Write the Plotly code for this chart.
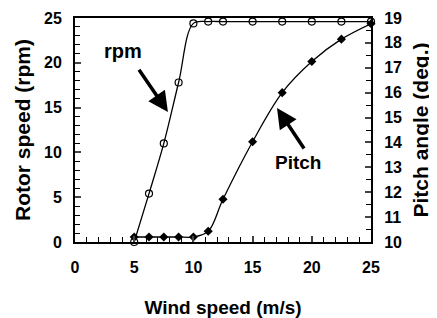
import plotly.graph_objects as go

wind = [5, 6.25, 7.5, 8.75, 10, 11.25, 12.5, 15, 17.5, 20, 22.5, 25]
rpm = [0, 5.4, 11.0, 17.8, 24.4, 24.6, 24.6, 24.6, 24.6, 24.6, 24.6, 24.6]
pitch = [10.2, 10.2, 10.2, 10.2, 10.2, 10.43, 11.72, 14.03, 16.0, 17.25, 18.15, 18.77]

x_ticks = [0, 5, 10, 15, 20, 25]
rpm_ticks = [0, 5, 10, 15, 20, 25]
pitch_ticks = list(range(10, 20))

FONT = "Liberation Sans"

fig = go.Figure()
fig.add_trace(go.Scatter(
    x=wind, y=rpm, mode="lines+markers", line=dict(color="black", width=1.3, shape="spline", smoothing=1),
    marker=dict(symbol="circle-open", size=7, color="black", line=dict(width=1.2)),
    showlegend=False, cliponaxis=False))
fig.add_trace(go.Scatter(
    x=wind, y=pitch, mode="lines+markers", yaxis="y2",
    line=dict(color="black", width=1.3, shape="spline", smoothing=1),
    marker=dict(symbol="diamond", size=7, color="black"),
    showlegend=False, cliponaxis=False))

tickfont = dict(family=FONT, size=16, color="black", weight="bold")

fig.update_layout(
    width=429, height=310,
    margin=dict(l=67, r=66, t=10, b=76),
    plot_bgcolor="white", paper_bgcolor="white",
    xaxis=dict(range=[0, 25], tickvals=x_ticks, ticks="inside", ticklen=6, tickwidth=1.5,
               showgrid=False, zeroline=False, showline=True, linecolor="black", linewidth=2,
               mirror=True, tickfont=tickfont, ticklabelstandoff=10, automargin=False,
               minor=dict(dtick=1, ticks="inside", ticklen=5, tickwidth=1.2, tickcolor="black"),
               title=dict(text="Wind speed (m/s)", font=dict(family=FONT, size=19, color="black", weight="bold"), standoff=25)),
    yaxis=dict(range=[0, 25], tickvals=rpm_ticks, ticks="inside", ticklen=6, tickwidth=1.5,
               showgrid=False, zeroline=False, showline=True, linecolor="black", linewidth=2,
               tickfont=tickfont, ticklabelstandoff=8, automargin=False,
               minor=dict(dtick=1, ticks="inside", ticklen=5, tickwidth=1.2, tickcolor="black"),
               title=dict(text="Rotor speed (rpm)", font=dict(family=FONT, size=21, color="black", weight="bold"), standoff=8)),
    yaxis2=dict(range=[10, 19], tickvals=pitch_ticks, overlaying="y", side="right", ticks="inside", ticklen=6, tickwidth=1.5,
                showgrid=False, zeroline=False, showline=True, linecolor="black", linewidth=2,
                tickfont=tickfont, ticklabelstandoff=8, automargin=False,
                minor=dict(dtick=0.5, ticks="inside", ticklen=5, tickwidth=1.2, tickcolor="black"),
                title=dict(text="Pitch angle (deg.)", font=dict(family=FONT, size=21, color="black", weight="bold"), standoff=12)),
)

fig.add_annotation(x=4.05, y=21.3, text="rpm", showarrow=False,
                   font=dict(family=FONT, size=20, color="black", weight="bold"))
fig.add_annotation(x=18.83, y=8.9, text="Pitch", showarrow=False,
                   font=dict(family=FONT, size=19, color="black", weight="bold"))
fig.add_annotation(x=7.85, y=14.5, ax=5.32, ay=19.4, axref="x", ayref="y", text="",
                   showarrow=True, arrowhead=2, arrowsize=1.15, arrowwidth=3.5, arrowcolor="black")
fig.add_annotation(x=17.06, y=14.96, ax=19.43, ay=10.26, axref="x", ayref="y", text="",
                   showarrow=True, arrowhead=2, arrowsize=1.15, arrowwidth=3.5, arrowcolor="black")

fig.write_html("out.html")
